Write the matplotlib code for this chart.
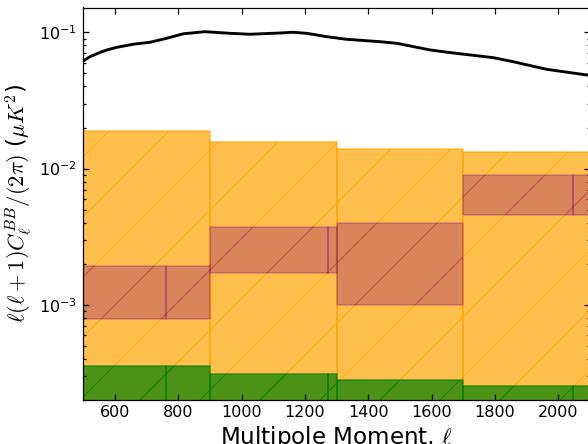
import numpy as np
import matplotlib
matplotlib.use('Agg')
import matplotlib.pyplot as plt

# multipole bins
bin_left = [500, 900, 1300, 1700]
bin_right = [900, 1300, 1700, 2100]
bin_split = [760, 1273, 1700, 2047]

# upper limit band (orange)
limit_top = [0.0188, 0.0156, 0.0140, 0.0132]

# measured band (purple)
meas_lo = [7.9e-4, 1.71e-3, 9.9e-4, 4.55e-3]
meas_hi = [1.91e-3, 3.72e-3, 4.0e-3, 8.93e-3]

# forecast noise (green)
noise_top = [3.53e-4, 3.12e-4, 2.82e-4, 2.55e-4]

# lensing B-mode spectrum
ell = [500, 521, 553, 574, 605, 658, 711, 763, 816, 884, 963, 1026, 1121,
       1162, 1205, 1269, 1332, 1437, 1490, 1595, 1648, 1795, 1858, 1963, 2090]
dl_bb = [0.0616, 0.0662, 0.0712, 0.0741, 0.0775, 0.0817, 0.0845, 0.0903,
         0.0975, 0.101, 0.0983, 0.0967, 0.0988, 0.100, 0.0983, 0.0928,
         0.0888, 0.0853, 0.0830, 0.0742, 0.0714, 0.0651, 0.0608, 0.0535,
         0.0486]

plt.rcParams['hatch.linewidth'] = 0.45
fig = plt.figure(figsize=(588 / 180, 444 / 180), dpi=180)
ax = fig.add_axes([83.3 / 588, 44 / 444, 506.6 / 588, 392.5 / 444])

floor = 1e-5
for i in range(4):
    ax.bar(bin_left[i], limit_top[i] - floor, bin_right[i] - bin_left[i],
           bottom=floor, align='edge', facecolor='orange', edgecolor='orange',
           alpha=0.7, hatch='/', linewidth=0.6)

for i in range(4):
    for a, b in [(bin_left[i], bin_split[i]), (bin_split[i], bin_right[i])]:
        if b <= a:
            continue
        ax.bar(a, meas_hi[i] - meas_lo[i], b - a, bottom=meas_lo[i],
               align='edge', facecolor='purple', edgecolor='purple',
               alpha=0.3, hatch='/', linewidth=0.6)
        ax.bar(a, noise_top[i] - floor, b - a, bottom=floor,
               align='edge', facecolor='green', edgecolor='green',
               alpha=0.7, hatch='/', linewidth=0.6)

ax.plot(ell, dl_bb, color='black', lw=1.15, solid_joinstyle='round')

ax.set_yscale('log')
ax.set_xlim(500, 2100)
ax.set_ylim(2e-4, 0.152)
ax.set_xticks([600, 800, 1000, 1200, 1400, 1600, 1800, 2000])

ax.tick_params(which='both', direction='in', top=True, right=True,
               labelsize=6.4, width=0.5)
ax.tick_params(which='major', length=2.2)
ax.tick_params(which='minor', length=1.2)
ax.tick_params(axis='y', pad=2.4)
ax.tick_params(axis='x', pad=2.0)
for s in ax.spines.values():
    s.set_linewidth(0.5)

ax.set_xlabel(r'Multipole Moment, $\ell$', fontsize=9.2, labelpad=1.5,
              math_fontfamily='cm')
ax.set_ylabel(r'$\ell(\ell+1)C_\ell^{BB}/(2\pi)$ ($\mu K^2$)', fontsize=9.0,
              labelpad=2, math_fontfamily='cm')

fig.savefig('out.png', dpi=180)
